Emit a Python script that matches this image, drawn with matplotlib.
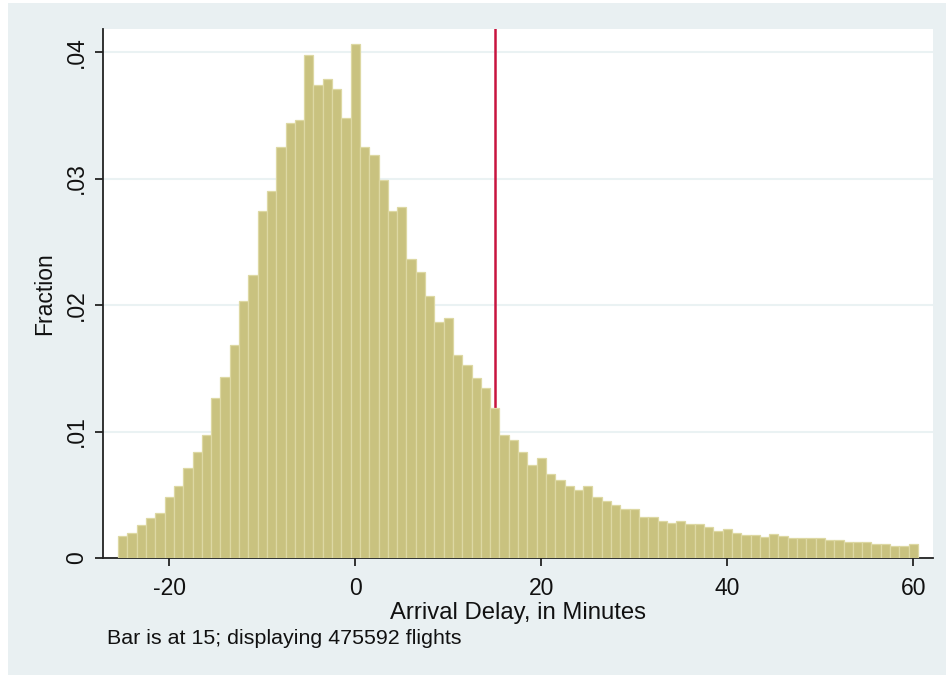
import matplotlib
matplotlib.use("Agg")
import matplotlib.pyplot as plt
from matplotlib.patches import Rectangle

# ---- data ----
delay_minutes = list(range(-25, 61))
fractions = [
    0.00172, 0.00199, 0.00264, 0.00313, 0.00357, 0.00480, 0.00572, 0.00711, 0.00837, 0.00973,
    0.01264, 0.01433, 0.01681, 0.02033, 0.02234, 0.02741, 0.02899, 0.03248, 0.03436, 0.03466,
    0.03975, 0.03741, 0.03787, 0.03711, 0.03480, 0.04065, 0.03248, 0.03185, 0.02992, 0.02741,
    0.02774, 0.02360, 0.02264, 0.02068, 0.01866, 0.01899, 0.01605, 0.01529, 0.01420, 0.01341,
    0.01188, 0.00973, 0.00929, 0.00837, 0.00738, 0.00787, 0.00665, 0.00619, 0.00572, 0.00540,
    0.00572, 0.00480, 0.00450, 0.00418, 0.00389, 0.00389, 0.00328, 0.00328, 0.00296, 0.00278,
    0.00296, 0.00265, 0.00265, 0.00249, 0.00217, 0.00233, 0.00201, 0.00185, 0.00185, 0.00169,
    0.00188, 0.00172, 0.00156, 0.00156, 0.00156, 0.00156, 0.00140, 0.00140, 0.00124, 0.00124,
    0.00124, 0.00111, 0.00111, 0.00095, 0.00095, 0.00108,
]
bar_at = 15
x_ticks = [-20, 0, 20, 40, 60]
x_tick_labels = ["-20", "0", "20", "40", "60"]
y_ticks = [0, 0.01, 0.02, 0.03, 0.04]
y_tick_labels = ["0", ".01", ".02", ".03", ".04"]
x_title = "Arrival Delay, in Minutes"
y_title = "Fraction"
note = "Bar is at 15; displaying 475592 flights"

# ---- style ----
W, H = 946, 675
plt.rcParams['font.family'] = ['Liberation Sans', 'DejaVu Sans']
bg = '#e9f0f2'
fig = plt.figure(figsize=(W / 100, H / 100), dpi=100, facecolor='white')
fig.patches.append(Rectangle((8 / W, 0), 1 - 8 / W, 1 - 3 / H, transform=fig.transFigure,
                             facecolor=bg, edgecolor='none', zorder=-10))

L, R, T, B = 103, 933, 29, 558
ax = fig.add_axes([L / W, 1 - B / H, (R - L) / W, (B - T) / H])
ax.set_facecolor('white')

ax.bar(delay_minutes, fractions, width=1.0, color='#c9c27f', edgecolor='#ddd8a3',
       linewidth=0.9, zorder=3)
ax.axvline(bar_at, color='#c8143f', lw=1.8, zorder=2)

ax.set_xlim(-27.13, 62.12)
ax.set_ylim(0, 0.04182)
ax.set_xticks(x_ticks)
ax.set_xticklabels(x_tick_labels)
ax.set_yticks(y_ticks)
ax.set_yticklabels(y_tick_labels, rotation=90, va='center')

ax.yaxis.grid(True, color='#eaf2f3', lw=1.5, zorder=0)
ax.set_axisbelow(True)

for s in ['top', 'right']:
    ax.spines[s].set_visible(False)
for s in ['left', 'bottom']:
    ax.spines[s].set_color('#222222')
    ax.spines[s].set_linewidth(1.3)

ax.tick_params(axis='both', direction='out', length=6, width=1.3, color='#222222',
               labelsize=16.5, labelcolor='#111111')
ax.tick_params(axis='x', pad=8)
ax.tick_params(axis='y', pad=5)

fig.text(45 / W, 1 - 293.5 / H, y_title, rotation=90, ha='center', va='center',
         fontsize=16.5, color='#111111')
fig.text(518 / W, 1 - 619 / H, x_title, ha='center', va='baseline',
         fontsize=17.2, color='#111111')
fig.text(107 / W, 1 - 644 / H, note, ha='left', va='baseline',
         fontsize=15.4, color='#111111')

fig.savefig('out.png', dpi=100, facecolor=fig.get_facecolor())
